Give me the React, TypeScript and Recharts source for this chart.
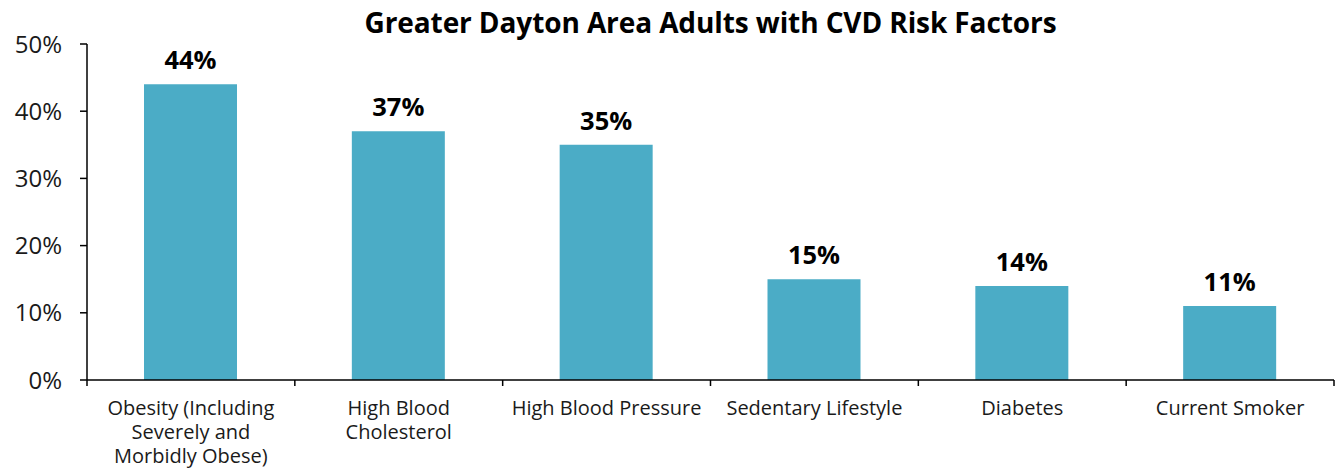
import React from "react";
import { BarChart, Bar, XAxis, YAxis, LabelList } from "recharts";

const categories = [
  "Obesity (Including\nSeverely and\nMorbidly Obese)",
  "High Blood\nCholesterol",
  "High Blood Pressure",
  "Sedentary Lifestyle",
  "Diabetes",
  "Current Smoker",
];
const values = [44, 37, 35, 15, 14, 11];
const yTicks = [0, 10, 20, 30, 40, 50];

const data = categories.map((c, i) => ({ name: c, value: values[i] }));

const FONT = "'Open Sans', 'Noto Sans', sans-serif";

const XTick = (props: any) => {
  const { x, y, payload, width, visibleTicksCount, index } = props;
  const band = width / visibleTicksCount;
  const lines = String(payload.value).split("\n");
  return (
    <g>
      <line x1={x - band / 2} x2={x - band / 2} y1={y} y2={y + 6} stroke="#000" strokeWidth={1.5} />
      {index === visibleTicksCount - 1 && (
        <line x1={x + band / 2} x2={x + band / 2} y1={y} y2={y + 6} stroke="#000" strokeWidth={1.5} />
      )}
      {lines.map((l, i) => (
        <text
          key={i}
          x={x}
          y={y + 35 + i * 24}
          textAnchor="middle"
          fill="#1a1a1a"
          fontSize={20}
          fontFamily={FONT}
        >
          {l}
        </text>
      ))}
    </g>
  );
};

export default function App() {
  return (
    <div style={{ position: "absolute", left: 0, top: 0, width: 1336, height: 469, background: "#fff" }}>
      <div
        style={{
          position: "absolute",
          left: 87,
          width: 1247,
          top: 2,
          textAlign: "center",
          fontFamily: FONT,
          fontWeight: 700,
          fontSize: 28,
          color: "#000",
          lineHeight: "40px",
          letterSpacing: "-0.1px",
        }}
      >
        Greater Dayton Area Adults with CVD Risk Factors
      </div>
      <BarChart
        width={1336}
        height={469}
        data={data}
        margin={{ top: 44, right: 2, left: 0, bottom: 0 }}
        barSize={93}
      >
        <YAxis
          domain={[0, 50]}
          ticks={yTicks}
          width={87}
          tickFormatter={(v: number) => `${v}%`}
          tickSize={7}
          tickMargin={18}
          axisLine={{ stroke: "#000", strokeWidth: 1.5 }}
          tickLine={{ stroke: "#000", strokeWidth: 1.5 }}
          tick={{ fill: "#1a1a1a", fontSize: 24, fontFamily: FONT }}
          interval={0}
        />
        <XAxis
          dataKey="name"
          height={89}
          interval={0}
          tickSize={0}
          tickMargin={0}
          tickLine={false}
          axisLine={{ stroke: "#000", strokeWidth: 1.5 }}
          tick={<XTick />}
        />
        <Bar dataKey="value" fill="#4BACC6" isAnimationActive={false}>
          <LabelList
            dataKey="value"
            position="top"
            offset={15}
            formatter={(v: any) => `${v}%`}
            style={{ fill: "#000", fontSize: 25.5, fontWeight: 700, fontFamily: FONT }}
          />
        </Bar>
      </BarChart>
    </div>
  );
}
